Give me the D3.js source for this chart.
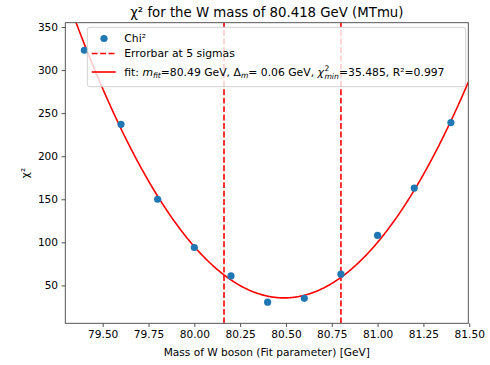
<!DOCTYPE html>
<html lang="en">
<head>
<meta charset="UTF-8">
<title>Chi2 W mass</title>
<script src="https://d3js.org/d3.v7.min.js"></script>
<style>
  body { margin: 0; background: #fff; }
  text { font-family: "DejaVu Sans", sans-serif; fill: #000; }
</style>
</head>
<body>
<svg id="chart" width="490" height="365"></svg>
<script>
// data
const masses = [79.4, 79.6, 79.8, 80.0, 80.2, 80.4, 80.6, 80.8, 81.0, 81.2, 81.4];
const chi2 = [323, 237, 150, 94, 61, 30.5, 35, 63, 108, 163, 239];
// fit parameters (parabola)
const mFit = 80.49, chiMin = 35.485, curv = 248;
const errLines = [80.162, 80.80];
const xTicks = [79.5, 79.75, 80.0, 80.25, 80.5, 80.75, 81.0, 81.25, 81.5];
const yTicks = [50, 100, 150, 200, 250, 300, 350];

const svg = d3.select("#chart");
const L = 65.3, R = 468.3, T = 22.7, B = 323.3;

const x = d3.scaleLinear().domain([79.296, 81.495]).range([L, R]);
const y = d3.scaleLinear().domain([6, 355]).range([B, T]);

svg.append("defs").append("clipPath").attr("id", "clip")
  .append("rect").attr("x", L).attr("y", T).attr("width", R - L).attr("height", B - T);

const plot = svg.append("g").attr("clip-path", "url(#clip)");

// fit curve
const fitPts = d3.range(79.296, 81.5, 0.005).map(m => [m, chiMin + curv * (m - mFit) * (m - mFit)]);
plot.append("path")
  .datum(fitPts)
  .attr("fill", "none")
  .attr("stroke", "#ff0000")
  .attr("stroke-width", 1.6)
  .attr("d", d3.line().x(d => x(d[0])).y(d => y(d[1])));

// errorbar lines
plot.selectAll("line.err").data(errLines).enter().append("line")
  .attr("class", "err")
  .attr("x1", d => x(d)).attr("x2", d => x(d))
  .attr("y1", B).attr("y2", T)
  .attr("stroke", "#ff0000")
  .attr("stroke-width", 1.6)
  .attr("stroke-dasharray", "5.9,2.55");

// points
plot.selectAll("circle").data(masses).enter().append("circle")
  .attr("cx", d => x(d))
  .attr("cy", (d, i) => y(chi2[i]))
  .attr("r", 3.6)
  .attr("fill", "#1f77b4");

// axes
const xAxis = svg.append("g").attr("transform", `translate(0,${B})`)
  .call(d3.axisBottom(x).tickValues(xTicks).tickFormat(d3.format(".2f")).tickSize(3.7).tickPadding(3.5));
const yAxis = svg.append("g").attr("transform", `translate(${L},0)`)
  .call(d3.axisLeft(y).tickValues(yTicks).tickSize(3.7).tickPadding(3.5));
[xAxis, yAxis].forEach(a => {
  a.select(".domain").remove();
  a.selectAll("line").attr("stroke", "#333").attr("stroke-width", 0.85);
  a.selectAll("text").style("font-size", "10.6px").style("font-family", "DejaVu Sans, sans-serif").attr("fill", "#000");
});

svg.append("rect").attr("x", L).attr("y", T).attr("width", R - L).attr("height", B - T)
  .attr("fill", "none").attr("stroke", "#444").attr("stroke-width", 0.9);

// labels
svg.append("text").attr("x", (L + R) / 2).attr("y", 17).attr("text-anchor", "middle")
  .style("font-size", "13.3px").text("χ² for the W mass of 80.418 GeV (MTmu)");
svg.append("text").attr("x", (L + R) / 2).attr("y", 356).attr("text-anchor", "middle")
  .style("font-size", "10.6px").text("Mass of W boson (Fit parameter) [GeV]");
svg.append("text").attr("transform", `translate(29,${(T + B) / 2}) rotate(-90)`).attr("text-anchor", "middle")
  .style("font-size", "10.6px").text("χ²");

// legend
const lg = svg.append("g");
lg.append("rect").attr("x", 87.3).attr("y", 27.3).attr("width", 378.4).attr("height", 59.4)
  .attr("rx", 2.5).attr("fill", "#fff").attr("fill-opacity", 0.8)
  .attr("stroke", "#ccc").attr("stroke-width", 0.9);
lg.append("circle").attr("cx", 104).attr("cy", 38.5).attr("r", 3.6).attr("fill", "#1f77b4");
lg.append("line").attr("x1", 91.7).attr("x2", 115.7).attr("y1", 53.5).attr("y2", 53.5)
  .attr("stroke", "#ff0000").attr("stroke-width", 1.6).attr("stroke-dasharray", "5.9,2.55");
lg.append("line").attr("x1", 91.7).attr("x2", 115.7).attr("y1", 72).attr("y2", 72)
  .attr("stroke", "#ff0000").attr("stroke-width", 1.6);
const fs = "10.8px", ss = "7.6px";
lg.append("text").attr("x", 124.3).attr("y", 42.3).style("font-size", fs).text("Chi²");
lg.append("text").attr("x", 124.3).attr("y", 57.3).style("font-size", fs).text("Errorbar at 5 sigmas");
const base = 75.5;
const t3 = lg.append("text").attr("x", 124.3).attr("y", base).style("font-size", fs);
t3.append("tspan").text("fit: ");
t3.append("tspan").style("font-style", "italic").text("m");
t3.append("tspan").style("font-style", "italic").style("font-size", ss).attr("dy", 2.5).text("fit");
t3.append("tspan").attr("dy", -2.5).text("=80.49 GeV, Δ");
t3.append("tspan").style("font-style", "italic").style("font-size", ss).attr("dy", 2.5).text("m");
t3.append("tspan").attr("dy", -2.5).text("= 0.06 GeV, ");
t3.append("tspan").style("font-style", "italic").text("χ");
const xc = 124.3 + t3.node().getComputedTextLength() + 0.5;
const sup = lg.append("text").attr("x", xc).attr("y", base - 5).style("font-size", ss).text("2");
const sub = lg.append("text").attr("x", xc).attr("y", base + 3.2).style("font-size", ss)
  .style("font-style", "italic").text("min");
const wmax = Math.max(sup.node().getComputedTextLength(), sub.node().getComputedTextLength());
lg.append("text").attr("x", xc + wmax + 0.3).attr("y", base).style("font-size", fs).text("=35.485, R²=0.997");
</script>
</body>
</html>
